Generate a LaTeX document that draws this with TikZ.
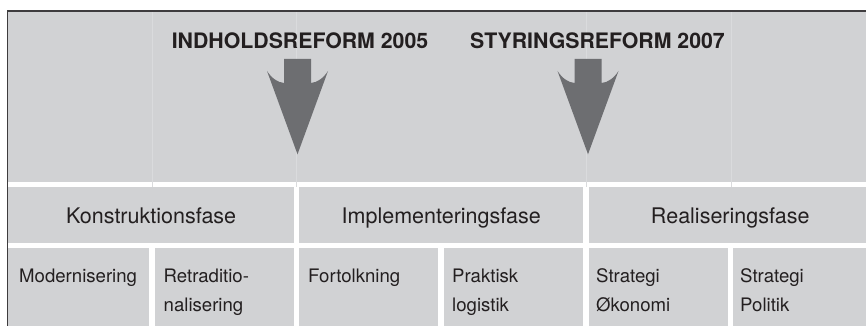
\documentclass[tikz,border=0pt]{standalone}
\usepackage{fontspec}
\setmainfont{TeX Gyre Heros}
\usepackage{tikz}
\usetikzlibrary{positioning}
\definecolor{mygray}{RGB}{209,210,212}
\definecolor{mytext}{RGB}{35,31,32}
\definecolor{myarrow}{RGB}{109,110,113}
\definecolor{myframe}{RGB}{62,60,62}
\tikzset{
    cell/.style={
        rectangle,
        fill=mygray,
        inner sep=0pt,
        anchor=north west
    },
    phase/.style={
        cell,
        minimum height=56pt,
        text=mytext,
        text height=16pt,
        text depth=0pt,
        font=\fontsize{21.5}{26}\selectfont
    },
    sub/.style={
        cell,
        minimum height=80pt
    },
    subtxt/.style={
        align=left,
        inner sep=0pt,
        text=mytext,
        font=\fontsize{18.6}{29}\selectfont
    },
    reform/.style={
        anchor=base,
        inner sep=0pt,
        text=mytext,
        font=\bfseries\fontsize{21.3}{26}\selectfont
    },
    pil/.style={fill=myarrow},
    gridline/.style={draw=mygray!80!white,line width=0.5pt},
    frame/.style={draw=myframe,line width=1.6pt}
}

\begin{document}
\begin{tikzpicture}[x=1pt,y=-1pt]
\useasboundingbox (0,0) rectangle (866,326);
\clip (0,0) rectangle (866,326);

% upper panel with the two reforms
\node[cell,minimum width=858pt,minimum height=171pt] (panel) at (8,11) {};
\foreach \x in {152.5,296,586,731}
    \draw[gridline] (\x,12) -- (\x,187);

\node[reform] (indhold) at (300,49) {INDHOLDSREFORM 2005};
\node[reform] (styring) at (597.5,49) {STYRINGSREFORM 2007};

\coordinate (pil1) at (297.5,59);
\coordinate (pil2) at (588,59);
\foreach \c in {pil1,pil2}
    \fill[pil,shift={(\c)}] (-13.5,0) -- (13.5,0) -- (13.5,24)
        .. controls (20,23.5) and (26,19) .. (30.5,12) -- (0,95.3)
        -- (-30.5,12) .. controls (-26,19) and (-20,23.5) .. (-13.5,24) -- cycle;

% phases
\node[phase,minimum width=286pt] (konstr) at (8,187) {Konstruktionsfase};
\node[phase,minimum width=284pt] (impl) at (299,187) {Implementeringsfase};
\node[phase,minimum width=282pt] (real) at (589,187) {Realiseringsfase};

% sub cells
\node[sub,minimum width=141pt] (modern) at (8,248) {};
\node[sub,minimum width=139pt] (retrad) at (155,248) {};
\node[sub,minimum width=139pt] (fortolk) at (299,248) {};
\node[sub,minimum width=139pt] (praktisk) at (444,248) {};
\node[sub,minimum width=139pt] (oekonomi) at (589,248) {};
\node[sub,minimum width=140pt] (politik) at (733,248) {};

\node[subtxt,below right=20.5pt and 11pt of modern.north west] (modernT) {Modernisering};
\node[subtxt,below right=20.5pt and 8.5pt of retrad.north west] (retradT) {Retraditio-\\nalisering};
\node[subtxt,below right=20.5pt and 9pt of fortolk.north west] (fortolkT) {Fortolkning};
\node[subtxt,below right=20.5pt and 8pt of praktisk.north west] (praktiskT) {Praktisk\\logistik};
\node[subtxt,below right=20.5pt and 7pt of oekonomi.north west] (oekonomiT) {Strategi\\Økonomi};
\node[subtxt,below right=20.5pt and 7pt of politik.north west] (politikT) {Strategi\\Politik};

\draw[frame] (866,10.8) -- (7.5,10.8) -- (7.5,326);
\end{tikzpicture}
\end{document}
